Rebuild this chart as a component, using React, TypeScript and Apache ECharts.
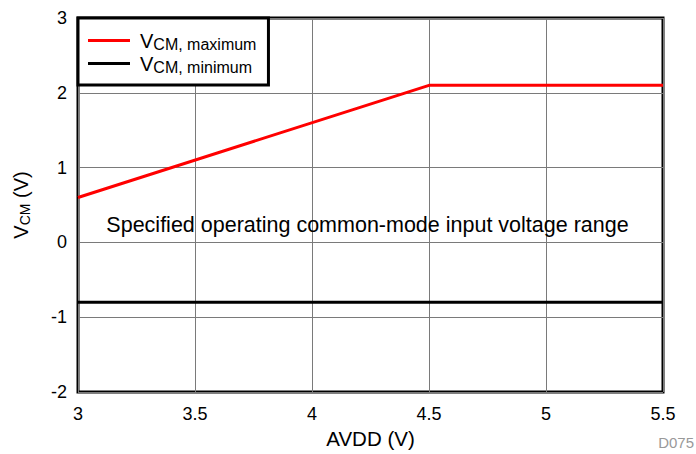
import React, { useEffect, useRef } from "react";
import * as echarts from "echarts";

const maxX = [3, 4.5, 5.5];
const maxY = [0.6, 2.1, 2.1];
const minX = [3, 5.5];
const minY = [-0.8, -0.8];
const xTicks = { min: 3, max: 5.5, interval: 0.5 };
const yTicks = { min: -2, max: 3, interval: 1 };
const seriesNames = ["max", "min"];
const legendLabels: Record<string, string> = {
  max: "{v|V}{s|CM, maximum}",
  min: "{v|V}{s|CM, minimum}",
};

const FONT = "Liberation Sans, Arial, sans-serif";

export default function App() {
  const ref = useRef<HTMLDivElement>(null);
  useEffect(() => {
    if (!ref.current) return;
    const chart = echarts.init(ref.current, null, { renderer: "svg" });
    chart.setOption({
      animation: false,
      textStyle: { fontFamily: FONT },
      grid: {
        left: 78,
        right: 33,
        top: 18,
        bottom: 62,
        outerBoundsMode: "none",
        containLabel: false,
        show: true,
        borderColor: "#000",
        borderWidth: 3,
        backgroundColor: "transparent",
      },
      xAxis: {
        type: "value",
        min: xTicks.min,
        max: xTicks.max,
        interval: xTicks.interval,
        axisLine: { show: false },
        axisTick: { show: false },
        axisLabel: {
          color: "#000",
          fontSize: 18,
          fontFamily: FONT,
          margin: 13,
          formatter: (v: number) => String(v),
        },
        splitLine: { show: true, lineStyle: { color: "#7a7a7a", width: 1 } },
        name: "AVDD (V)",
        nameLocation: "middle",
        nameGap: 32,
        nameTextStyle: { color: "#000", fontSize: 20.5, fontFamily: FONT },
      },
      yAxis: {
        type: "value",
        min: yTicks.min,
        max: yTicks.max,
        interval: yTicks.interval,
        axisLine: { show: false },
        axisTick: { show: false },
        axisLabel: {
          color: "#000",
          fontSize: 18,
          fontFamily: FONT,
          margin: 11,
        },
        splitLine: { show: true, lineStyle: { color: "#7a7a7a", width: 1 } },
        name: "{v|V}{s|CM}{v| (V)}",
        nameLocation: "middle",
        nameRotate: 90,
        nameGap: 46,
        nameTextStyle: {
          color: "#000",
          fontFamily: FONT,
          rich: {
            v: { fontSize: 20, color: "#000", fontFamily: FONT },
            s: { fontSize: 14, color: "#000", fontFamily: FONT, padding: [8, 0, 0, 0] },
          },
        },
      },
      legend: {
        show: true,
        orient: "vertical",
        left: 78,
        top: 18,
        backgroundColor: "#fff",
        borderColor: "#000",
        borderWidth: 3,
        padding: [11, 12, 10, 10],
        itemGap: 0,
        itemWidth: 42,
        itemHeight: 3,
        data: seriesNames.map((n) => ({ name: n, icon: "rect" })),
        formatter: (n: string) => legendLabels[n],
        textStyle: {
          fontFamily: FONT,
          rich: {
            v: { fontSize: 20, color: "#000", fontFamily: FONT, lineHeight: 22, padding: [0, 0, 0, 5] },
            s: { fontSize: 16, color: "#000", fontFamily: FONT, lineHeight: 22, padding: [7, 0, 0, 0] },
          },
        },
      },
      graphic: [
        {
          type: "text",
          x: 367.5,
          y: 224.5,
          style: {
            text: "Specified operating common-mode input voltage range",
            fill: "#000",
            fontSize: 21.5,
            fontFamily: FONT,
            align: "center",
            verticalAlign: "middle",
          },
          z: 5,
        },
        {
          type: "text",
          right: 2,
          bottom: 4,
          style: { text: "D075", fill: "#999", fontSize: 15, fontFamily: FONT },
        },
      ],
      series: [
        {
          name: seriesNames[0],
          type: "line",
          data: maxX.map((x, i) => [x, maxY[i]]),
          symbol: "none",
          lineStyle: { color: "#ff0000", width: 3 },
          itemStyle: { color: "#ff0000" },
          z: 3,
        },
        {
          name: seriesNames[1],
          type: "line",
          data: minX.map((x, i) => [x, minY[i]]),
          symbol: "none",
          lineStyle: { color: "#000", width: 3 },
          itemStyle: { color: "#000" },
          z: 3,
        },
      ],
    });
    return () => chart.dispose();
  }, []);
  return (
    <div
      ref={ref}
      style={{ position: "fixed", left: 0, top: 0, width: 696, height: 454, background: "#fff" }}
    />
  );
}
